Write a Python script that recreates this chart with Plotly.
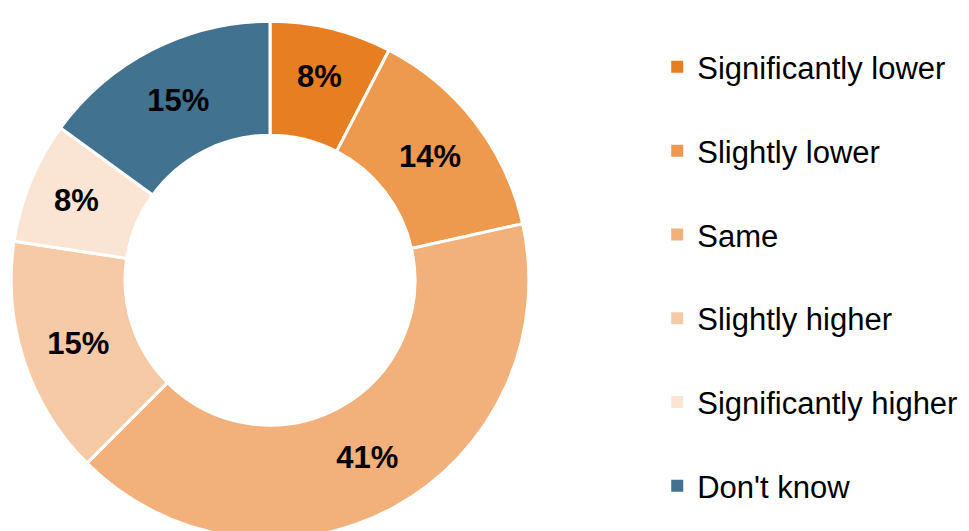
import plotly.graph_objects as go

categories = ["Significantly lower", "Slightly lower", "Same", "Slightly higher",
              "Significantly higher", "Don't know"]
values = [7.6, 13.9, 41.0, 14.9, 7.6, 15.0]
colors = ["#E77E22", "#EE9A4E", "#F2B07A", "#F6CAA6", "#FAE5D4", "#41728F"]

W, H = 969, 531
fig = go.Figure()
fig.add_trace(go.Pie(
    labels=categories, values=values, sort=False, direction="clockwise", rotation=0,
    hole=0.56,
    marker=dict(colors=colors, line=dict(color="white", width=3)),
    texttemplate="%{percent:.0%}", textposition="inside",
    insidetextorientation="horizontal",
    textfont=dict(family="Liberation Sans, Arial", size=31, color="black", weight="bold"),
    domain=dict(x=[3 / W, 521 / W], y=[0, 0.975]),
    showlegend=False,
))
for c, col in zip(categories, colors):
    fig.add_trace(go.Scatter(
        x=[None], y=[None], mode="markers", name=c, legendgroup=c,
        marker=dict(symbol="square", size=12, color=col),
    ))

fig.update_layout(
    width=W, height=H, margin=dict(l=0, r=0, t=0, b=0),
    paper_bgcolor="white", plot_bgcolor="white",
    xaxis=dict(visible=False), yaxis=dict(visible=False),
    font=dict(family="Liberation Sans, Arial", color="black"),
    legend=dict(x=0.67, y=0.494, xanchor="left", yanchor="middle",
                font=dict(size=31, color="black"), tracegroupgap=40.5,
                itemwidth=30, bgcolor="rgba(0,0,0,0)"),
)
fig.write_html("out.html")
